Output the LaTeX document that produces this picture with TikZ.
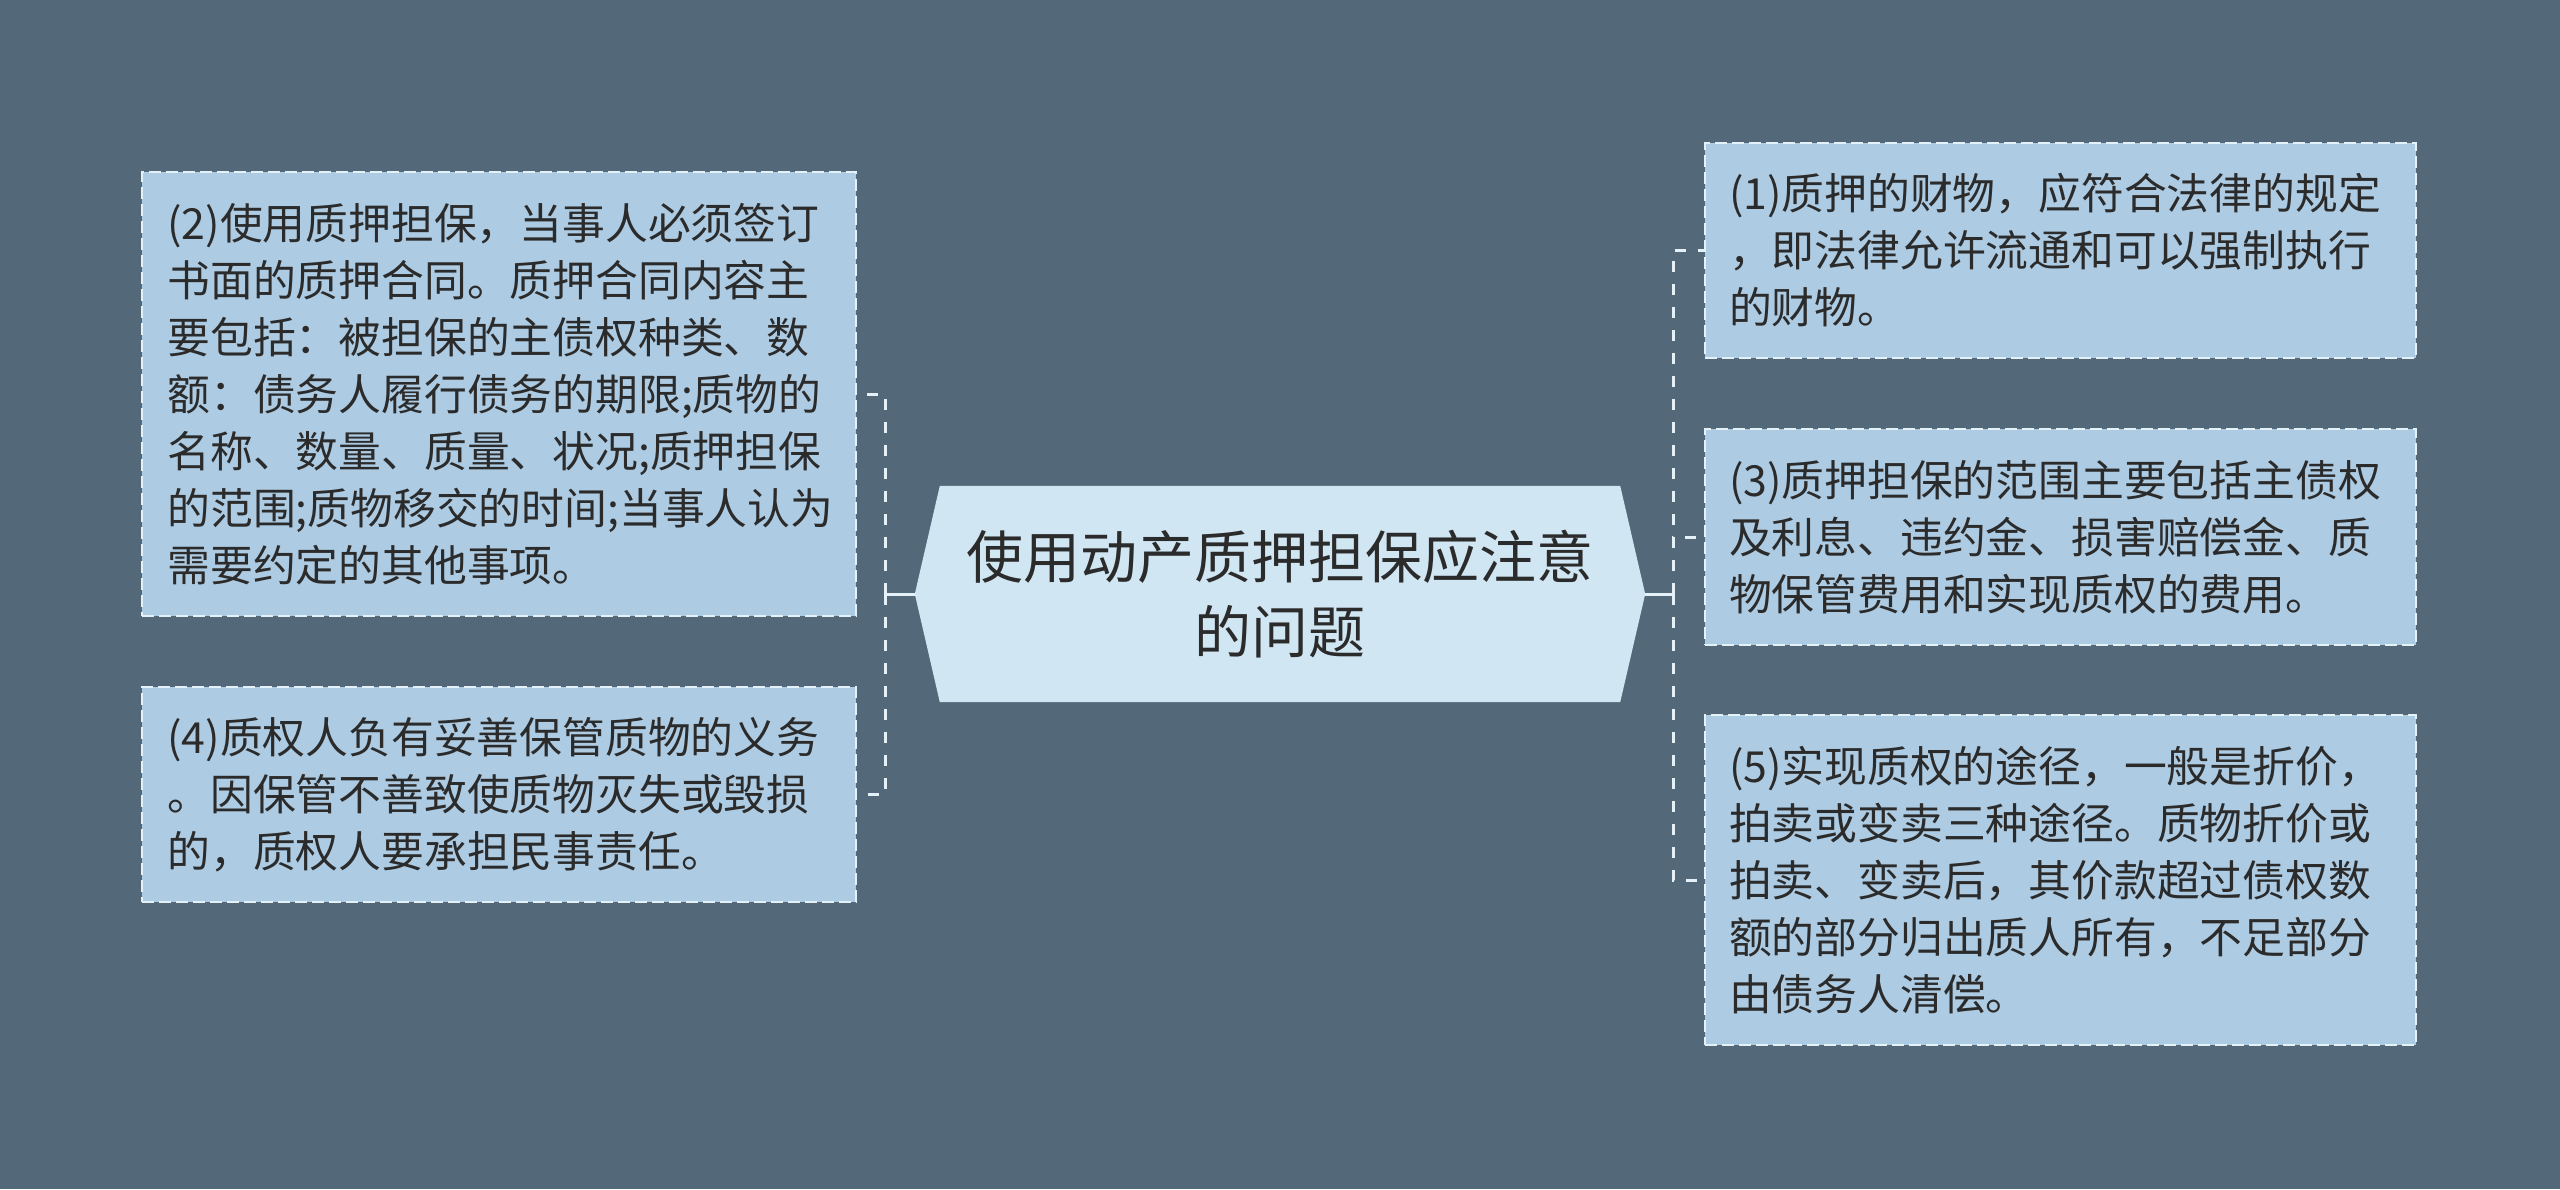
\documentclass[tikz,border=0pt]{standalone}
\usepackage{fontspec}
\setmainfont{Noto Sans CJK SC}
\usetikzlibrary{backgrounds}
\definecolor{bgc}{HTML}{536979}
\definecolor{boxfill}{HTML}{ADCBE2}
\definecolor{cfill}{HTML}{D0E6F3}
\definecolor{linec}{HTML}{E4F1F8}
\definecolor{txt}{HTML}{2B2B2B}
\tikzset{
  leaf/.style={draw=linec, line width=2pt, dash pattern=on 12pt off 5pt,
    fill=boxfill, inner xsep=24pt, inner ysep=0pt, align=left,
    text width=663pt, text=txt, font=\fontsize{42.8}{57}\selectfont},
  hub/.style={inner sep=0pt, minimum width=680pt, minimum height=216pt,
    align=center, text=txt, font=\fontsize{57}{75}\selectfont},
  conn/.style={draw=linec, line width=3pt},
  dsh/.style={dash pattern=on 11pt off 12pt}
}
\begin{document}
\begin{tikzpicture}[x=1pt,y=-1pt]
\useasboundingbox (0,0) rectangle (2560,1189);
% central node
\node[hub] (c) at (1280,594) {使用动产质押担保应注意\\的问题};
\path (c.west) ++(-25,0) coordinate (cl);
\path (c.east) ++(25,0) coordinate (cr);
% left boxes
\node[leaf, minimum width=714pt, minimum height=444pt] (b2) at (499,394)
  {(2)使用质押担保，当事人必须签订\\书面的质押合同。质押合同内容主\\要包括：被担保的主债权种类、数\\额：债务人履行债务的期限;质物的\\名称、数量、质量、状况;质押担保\\的范围;质物移交的时间;当事人认为\\需要约定的其他事项。};
\node[leaf, minimum width=714pt, minimum height=215pt] (b4) at (499,794.5)
  {(4)质权人负有妥善保管质物的义务\\。因保管不善致使质物灭失或毁损\\的，质权人要承担民事责任。};
% right boxes
\node[leaf, minimum width=711pt, minimum height=215pt] (b1) at (2060.5,250.5)
  {(1)质押的财物，应符合法律的规定\\，即法律允许流通和可以强制执行\\的财物。};
\node[leaf, minimum width=711pt, minimum height=216pt] (b3) at (2060.5,537)
  {(3)质押担保的范围主要包括主债权\\及利息、违约金、损害赔偿金、质\\物保管费用和实现质权的费用。};
\node[leaf, minimum width=711pt, minimum height=330pt] (b5) at (2060.5,880)
  {(5)实现质权的途径，一般是折价，\\拍卖或变卖三种途径。质物折价或\\拍卖、变卖后，其价款超过债权数\\额的部分归出质人所有，不足部分\\由债务人清偿。};
% junctions
\coordinate (jl) at (885,594);
\coordinate (jr) at (1673,594);
\draw[conn] (cl) -- (jl);
\draw[conn] (cr) -- (jr);
\draw[conn,dsh] (jl) |- (b2.east);
\draw[conn,dsh] (jl) |- (b4.east);
\draw[conn,dsh] (jr) |- (b1.west);
\draw[conn,dsh] (jr) |- (b3.west);
\draw[conn,dsh] (jr) |- (b5.west);
\begin{pgfonlayer}{background}
\fill[bgc] (0,0) rectangle (2560,1189);
\fill[cfill] (c.north west) -- (c.north east) -- (cr) -- (c.south east) -- (c.south west) -- (cl) -- cycle;
\end{pgfonlayer}
\end{tikzpicture}
\end{document}
